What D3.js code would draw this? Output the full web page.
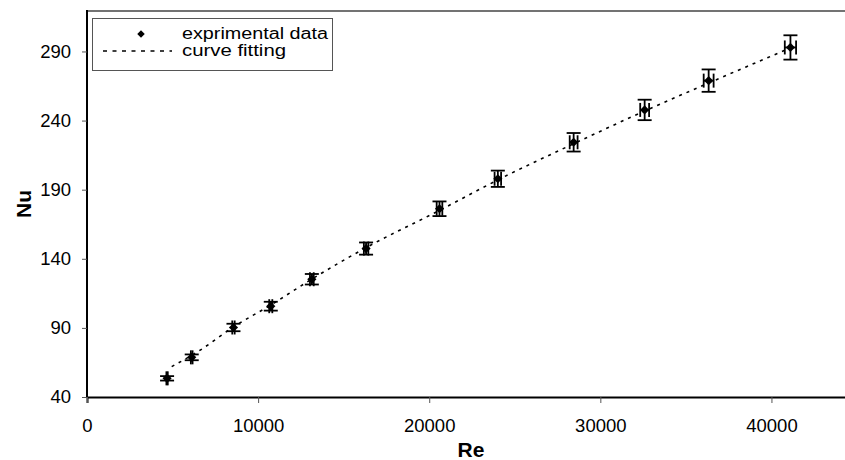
<!DOCTYPE html>
<html>
<head>
<meta charset="utf-8">
<script src="https://cdn.jsdelivr.net/npm/d3@7"></script>
<style>
  body { margin: 0; background: #fff; }
  svg { display: block; font-family: Arial, "Liberation Sans", sans-serif; }
</style>
</head>
<body>
<div id="chart"></div>
<script>
// measured points (Re, Nu)
const reValues = [4680, 6120, 8560, 10740, 13140, 16310, 20600, 24010, 28440, 32590, 36330, 41110];
const nuValues = [53.5, 68.7, 90.3, 105.7, 125.2, 147.4, 176.2, 197.9, 224.3, 247.7, 268.9, 292.9];
// error bars
const nuErrors = [1.6, 2.1, 2.7, 3.2, 3.8, 4.4, 5.3, 5.9, 6.7, 7.4, 8.1, 8.8];
const reErrors = [40, 50, 70, 90, 110, 130, 165, 190, 230, 260, 290, 330];
// fitted curve
const fitRe = [4950, 6500, 8600, 10800, 13100, 16300, 20600, 24000, 28400, 32600, 36300, 41000];
const fitNu = [62, 73, 91, 107, 125, 148, 175, 197, 223, 247, 267, 292];
const xTicks = [0, 10000, 20000, 30000, 40000];
const yTicks = [40, 90, 140, 190, 240, 290];

const width = 845, height = 460;
const plotLeft = 87, plotTop = 10, plotBottom = 397;

const svg = d3.select("#chart").append("svg")
    .attr("width", width)
    .attr("height", height);

const x = d3.scaleLinear().domain([0, 45000]).range([plotLeft, 857]);
const y = d3.scaleLinear().domain([40, 320]).range([plotBottom, plotTop]);

// top frame line (right side runs off the picture)
svg.append("line")
    .attr("x1", plotLeft).attr("x2", width)
    .attr("y1", plotTop + 1).attr("y2", plotTop + 1)
    .attr("stroke", "#444").attr("stroke-width", 1.5);

// axes
const xAxis = svg.append("g")
    .attr("transform", "translate(0," + plotBottom + ")")
    .call(d3.axisBottom(x).tickValues(xTicks).tickSize(6).tickPadding(16).tickFormat(d3.format("d")));
xAxis.select(".domain").attr("stroke", "#000").attr("stroke-width", 2);
xAxis.selectAll(".tick line").attr("stroke", "#555");
xAxis.selectAll("text").attr("font-size", 18.5).attr("fill", "#000")
    .attr("font-family", "Arial, 'Liberation Sans', sans-serif");

const yAxis = svg.append("g")
    .attr("transform", "translate(" + plotLeft + ",0)")
    .call(d3.axisLeft(y).tickValues(yTicks).tickSize(5).tickPadding(11));
yAxis.select(".domain").attr("stroke", "#000").attr("stroke-width", 2)
    .attr("d", "M0," + plotBottom + "V" + plotTop);
yAxis.selectAll(".tick line").attr("stroke", "#555");
yAxis.selectAll("text").attr("font-size", 18.5).attr("fill", "#000")
    .attr("font-family", "Arial, 'Liberation Sans', sans-serif");

// axis titles
svg.append("text")
    .attr("x", 471).attr("y", 457)
    .attr("text-anchor", "middle")
    .attr("font-size", 21).attr("font-weight", "bold")
    .text("Re");

svg.append("text")
    .attr("transform", "translate(31," + 204 + ") rotate(-90)")
    .attr("text-anchor", "middle")
    .attr("font-size", 21).attr("font-weight", "bold")
    .text("Nu");

// fitted curve
const fitData = fitRe.map((r, i) => ({ re: r, nu: fitNu[i] }));
svg.append("path")
    .datum(fitData)
    .attr("fill", "none")
    .attr("stroke", "#000")
    .attr("stroke-width", 1.6)
    .attr("stroke-dasharray", "3,5")
    .attr("d", d3.line().curve(d3.curveMonotoneX).x(d => x(d.re)).y(d => y(d.nu)));

const points = reValues.map((r, i) => ({ re: r, nu: nuValues[i], enu: nuErrors[i], ere: reErrors[i] }));
const cap = 7;

const bars = svg.append("g").attr("stroke", "#000").attr("stroke-width", 1.8);

points.forEach(d => {
    const cx = x(d.re), cy = y(d.nu);
    const y1 = y(d.nu + d.enu), y2 = y(d.nu - d.enu);
    const x1 = x(d.re - d.ere), x2 = x(d.re + d.ere);
    // vertical error bar
    bars.append("line").attr("x1", cx).attr("x2", cx).attr("y1", y1).attr("y2", y2);
    bars.append("line").attr("x1", cx - cap).attr("x2", cx + cap).attr("y1", y1).attr("y2", y1);
    bars.append("line").attr("x1", cx - cap).attr("x2", cx + cap).attr("y1", y2).attr("y2", y2);
    // horizontal error bar
    bars.append("line").attr("x1", x1).attr("x2", x2).attr("y1", cy).attr("y2", cy);
    bars.append("line").attr("x1", x1).attr("x2", x1).attr("y1", cy - cap).attr("y2", cy + cap);
    bars.append("line").attr("x1", x2).attr("x2", x2).attr("y1", cy - cap).attr("y2", cy + cap);
});

// square diamond marker (square turned 45 degrees)
const diamond = d3.symbol().type(d3.symbolSquare).size(42);
svg.append("g").selectAll("path")
    .data(points)
    .enter()
    .append("path")
    .attr("transform", d => "translate(" + x(d.re) + "," + y(d.nu) + ") rotate(45)")
    .attr("d", diamond)
    .attr("fill", "#000");

// legend
const legend = svg.append("g");
legend.append("rect")
    .attr("x", 92.5).attr("y", 18.5)
    .attr("width", 240).attr("height", 52)
    .attr("fill", "#fff").attr("stroke", "#555").attr("stroke-width", 1);
legend.append("path")
    .attr("transform", "translate(141,34) rotate(45)")
    .attr("d", d3.symbol().type(d3.symbolSquare).size(28))
    .attr("fill", "#000");
legend.append("line")
    .attr("x1", 103).attr("x2", 172).attr("y1", 51).attr("y2", 51)
    .attr("stroke", "#000").attr("stroke-width", 1.5)
    .attr("stroke-dasharray", "4,5.5");
legend.append("text")
    .attr("x", 182).attr("y", 39)
    .attr("font-size", 16)
    .attr("textLength", 146).attr("lengthAdjust", "spacingAndGlyphs")
    .text("exprimental data");
legend.append("text")
    .attr("x", 182).attr("y", 56)
    .attr("font-size", 16)
    .attr("textLength", 104).attr("lengthAdjust", "spacingAndGlyphs")
    .text("curve fitting");
</script>
</body>
</html>
